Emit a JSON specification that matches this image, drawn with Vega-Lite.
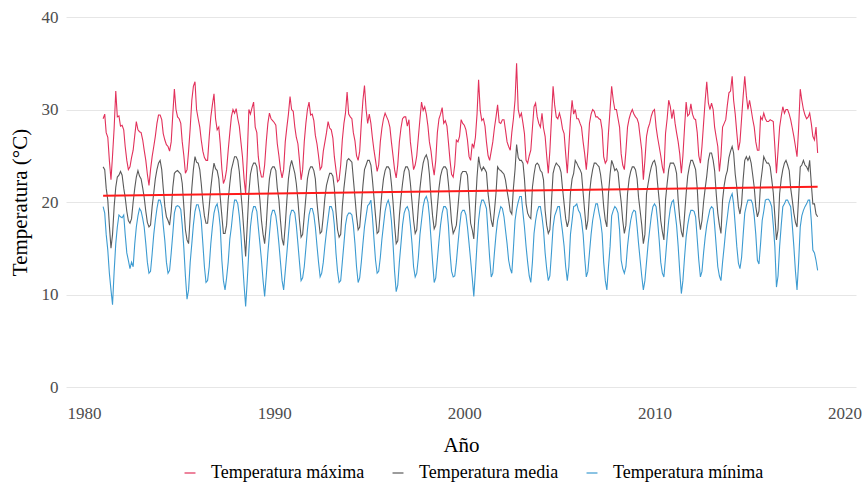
{
"$schema":"https://vega.github.io/schema/vega-lite/v6.json",
"width":790,"height":370,
"autosize":{"type":"none"},
"padding":{"left":66,"top":17,"right":6,"bottom":99},
"config":{"font":"Liberation Serif","view":{"stroke":null},"background":"white",
 "style":{"guide-label":{"font":"Liberation Serif"},"guide-title":{"font":"Liberation Serif"}},
 "axis":{"labelFont":"Liberation Serif","titleFont":"Liberation Serif"},
 "legend":{"labelFont":"Liberation Serif","titleFont":"Liberation Serif"}},
"datasets":{
"trend":[{"t":"1981-01","v":20.68},{"t":"2018-08","v":21.65}],
"temp":[
{"t":"1981-01","a":29,"b":23.8,"c":19.5},{"t":"1981-02","a":29.5,"b":23.5,"c":18.8},{"t":"1981-03","a":27.5,"b":21.5,"c":16.5},{"t":"1981-04","a":27,"b":20.2,"c":14.8},{"t":"1981-05","a":24.5,"b":17.5,"c":12.3},{"t":"1981-06","a":22.4,"b":15,"c":10.5},{"t":"1981-07","a":25,"b":16.5,"c":8.9},{"t":"1981-08","a":28,"b":19.5,"c":12.5},{"t":"1981-09","a":32,"b":21.6,"c":15.5},{"t":"1981-10","a":29.2,"b":22.7,"c":17.3},{"t":"1981-11","a":29.3,"b":22.9,"c":18.6},{"t":"1981-12","a":28.2,"b":23.3,"c":18.4},
{"t":"1982-01","a":28.3,"b":22.9,"c":18.3},{"t":"1982-02","a":27.8,"b":21.5,"c":18.6},{"t":"1982-03","a":26,"b":20.5,"c":16.5},{"t":"1982-04","a":24.5,"b":19,"c":14.5},{"t":"1982-05","a":23.5,"b":18,"c":13.7},{"t":"1982-06","a":23.8,"b":17.7,"c":12.8},{"t":"1982-07","a":24.8,"b":18.2,"c":13.5},{"t":"1982-08","a":25.6,"b":20,"c":13},{"t":"1982-09","a":27.2,"b":21.5,"c":15.5},{"t":"1982-10","a":28.7,"b":22.7,"c":17.3},{"t":"1982-11","a":27.8,"b":23.4,"c":18.5},{"t":"1982-12","a":27.6,"b":22.8,"c":19.3},
{"t":"1983-01","a":27.5,"b":22.5,"c":19},{"t":"1983-02","a":26.7,"b":21.5,"c":18.2},{"t":"1983-03","a":25.6,"b":20.5,"c":17.3},{"t":"1983-04","a":24.5,"b":19,"c":15.5},{"t":"1983-05","a":23,"b":17.8,"c":13.5},{"t":"1983-06","a":21.8,"b":17.3,"c":12.3},{"t":"1983-07","a":23.5,"b":17.5,"c":12.5},{"t":"1983-08","a":24.9,"b":19.5,"c":14.4},{"t":"1983-09","a":26,"b":21,"c":16.5},{"t":"1983-10","a":27.1,"b":22.5,"c":18},{"t":"1983-11","a":28.5,"b":23.5,"c":19.3},{"t":"1983-12","a":29.4,"b":24.2,"c":20.2},
{"t":"1984-01","a":29.4,"b":24.5,"c":20.2},{"t":"1984-02","a":28.9,"b":23.5,"c":19.5},{"t":"1984-03","a":27.4,"b":21.5,"c":17.5},{"t":"1984-04","a":26.7,"b":19.5,"c":15.8},{"t":"1984-05","a":26.2,"b":18.4,"c":13.5},{"t":"1984-06","a":26,"b":18,"c":12.3},{"t":"1984-07","a":25.5,"b":17.5,"c":12.6},{"t":"1984-08","a":26.5,"b":19,"c":14.5},{"t":"1984-09","a":29.5,"b":21.6,"c":16.6},{"t":"1984-10","a":32.2,"b":23.1,"c":18.8},{"t":"1984-11","a":30,"b":23.3,"c":19.5},{"t":"1984-12","a":29.2,"b":23.4,"c":19.6},
{"t":"1985-01","a":29,"b":23.2,"c":19.5},{"t":"1985-02","a":28.5,"b":23,"c":19.2},{"t":"1985-03","a":26.5,"b":22,"c":17.5},{"t":"1985-04","a":25,"b":19.5,"c":15},{"t":"1985-05","a":23.1,"b":17,"c":12},{"t":"1985-06","a":23.5,"b":15.9,"c":9.5},{"t":"1985-07","a":25.5,"b":15.5,"c":10.5},{"t":"1985-08","a":28,"b":18.5,"c":13.5},{"t":"1985-09","a":31,"b":21.5,"c":15.5},{"t":"1985-10","a":32.5,"b":23.5,"c":17.5},{"t":"1985-11","a":33,"b":24.9,"c":19},{"t":"1985-12","a":30,"b":24.3,"c":19.7},
{"t":"1986-01","a":29,"b":24.2,"c":19.7},{"t":"1986-02","a":28.1,"b":23.5,"c":19},{"t":"1986-03","a":26.7,"b":22,"c":18},{"t":"1986-04","a":25.5,"b":20,"c":15.5},{"t":"1986-05","a":24.8,"b":18.5,"c":13},{"t":"1986-06","a":24.5,"b":17.7,"c":11.3},{"t":"1986-07","a":24.5,"b":17.7,"c":11.5},{"t":"1986-08","a":27,"b":19.5,"c":13},{"t":"1986-09","a":29.2,"b":21.5,"c":15.5},{"t":"1986-10","a":30.5,"b":23,"c":17.3},{"t":"1986-11","a":31.7,"b":24.2,"c":18.8},{"t":"1986-12","a":29,"b":23.6,"c":19.5},
{"t":"1987-01","a":27.8,"b":23.4,"c":19.8},{"t":"1987-02","a":28.1,"b":22.5,"c":18.8},{"t":"1987-03","a":26.3,"b":20.5,"c":17.3},{"t":"1987-04","a":23.6,"b":18.5,"c":13.7},{"t":"1987-05","a":22,"b":16.6,"c":11.5},{"t":"1987-06","a":22.5,"b":16.6,"c":10.5},{"t":"1987-07","a":23.5,"b":17.5,"c":11.8},{"t":"1987-08","a":25.6,"b":20.2,"c":13.5},{"t":"1987-09","a":27.5,"b":22,"c":16},{"t":"1987-10","a":29.2,"b":23.5,"c":17.3},{"t":"1987-11","a":30,"b":24.2,"c":19},{"t":"1987-12","a":29.6,"b":24.9,"c":20.2},
{"t":"1988-01","a":30.1,"b":24.9,"c":20.2},{"t":"1988-02","a":29,"b":24.5,"c":19.8},{"t":"1988-03","a":28.2,"b":23.3,"c":18.5},{"t":"1988-04","a":26.5,"b":21,"c":16.5},{"t":"1988-05","a":24.9,"b":19,"c":13.7},{"t":"1988-06","a":22.5,"b":16.5,"c":11},{"t":"1988-07","a":20.9,"b":14.1,"c":8.7},{"t":"1988-08","a":25,"b":17.5,"c":11.5},{"t":"1988-09","a":30,"b":21,"c":14.8},{"t":"1988-10","a":29.5,"b":23,"c":17.3},{"t":"1988-11","a":30.2,"b":23.8,"c":18.8},{"t":"1988-12","a":30.8,"b":24.2,"c":19.5},
{"t":"1989-01","a":28.1,"b":24.2,"c":19.5},{"t":"1989-02","a":27.5,"b":23.8,"c":19},{"t":"1989-03","a":24.9,"b":22,"c":17.3},{"t":"1989-04","a":23.5,"b":20.2,"c":15.5},{"t":"1989-05","a":22.7,"b":18,"c":13.7},{"t":"1989-06","a":22.7,"b":16.5,"c":11.5},{"t":"1989-07","a":24,"b":15.5,"c":9.8},{"t":"1989-08","a":26.5,"b":17.5,"c":12},{"t":"1989-09","a":28.5,"b":20.5,"c":14.5},{"t":"1989-10","a":29.6,"b":22.5,"c":16.5},{"t":"1989-11","a":29,"b":23.5,"c":18.5},{"t":"1989-12","a":28.8,"b":23.8,"c":19.1},
{"t":"1990-01","a":28.6,"b":23.8,"c":19.1},{"t":"1990-02","a":28.3,"b":23.4,"c":18.5},{"t":"1990-03","a":26.3,"b":21.5,"c":17.3},{"t":"1990-04","a":25,"b":20.2,"c":15.5},{"t":"1990-05","a":23.5,"b":18,"c":13.5},{"t":"1990-06","a":22.6,"b":16,"c":11.5},{"t":"1990-07","a":23.5,"b":15.3,"c":10.5},{"t":"1990-08","a":26.5,"b":17.5,"c":12.5},{"t":"1990-09","a":28.1,"b":20.2,"c":14.5},{"t":"1990-10","a":29.5,"b":22.5,"c":16.5},{"t":"1990-11","a":31.4,"b":23.8,"c":18.5},{"t":"1990-12","a":30,"b":24.5,"c":19.1},
{"t":"1991-01","a":29.8,"b":23.8,"c":19.1},{"t":"1991-02","a":28.1,"b":23.1,"c":18.8},{"t":"1991-03","a":27,"b":22,"c":17.5},{"t":"1991-04","a":26.3,"b":20.2,"c":15.5},{"t":"1991-05","a":24.5,"b":18,"c":13.5},{"t":"1991-06","a":22.4,"b":16.2,"c":11.5},{"t":"1991-07","a":23.5,"b":16.5,"c":11.8},{"t":"1991-08","a":26.5,"b":18.5,"c":13},{"t":"1991-09","a":28.5,"b":20.5,"c":15},{"t":"1991-10","a":30,"b":22.5,"c":17},{"t":"1991-11","a":30.8,"b":23.4,"c":18.6},{"t":"1991-12","a":29.4,"b":23.8,"c":19.3},
{"t":"1992-01","a":29.5,"b":23.8,"c":19.3},{"t":"1992-02","a":28.8,"b":23.4,"c":18.6},{"t":"1992-03","a":27.2,"b":22.5,"c":17.3},{"t":"1992-04","a":26.3,"b":20,"c":15.3},{"t":"1992-05","a":25,"b":18.2,"c":13.5},{"t":"1992-06","a":23.5,"b":16.6,"c":11.9},{"t":"1992-07","a":23.8,"b":16.8,"c":12.3},{"t":"1992-08","a":25.5,"b":18.5,"c":13.5},{"t":"1992-09","a":26.5,"b":20.5,"c":15.3},{"t":"1992-10","a":27.5,"b":21.8,"c":16.8},{"t":"1992-11","a":28.7,"b":22.5,"c":18.2},{"t":"1992-12","a":28,"b":23.1,"c":19.5},
{"t":"1993-01","a":27.8,"b":23.1,"c":19.5},{"t":"1993-02","a":26.9,"b":22.8,"c":19},{"t":"1993-03","a":24.9,"b":21.5,"c":17.5},{"t":"1993-04","a":23.5,"b":19,"c":14.5},{"t":"1993-05","a":22.2,"b":17,"c":12.5},{"t":"1993-06","a":22.4,"b":16.2,"c":11.3},{"t":"1993-07","a":24,"b":16.5,"c":11.5},{"t":"1993-08","a":26.7,"b":19.5,"c":13.5},{"t":"1993-09","a":28.5,"b":21.5,"c":15.5},{"t":"1993-10","a":29.6,"b":23,"c":17.5},{"t":"1993-11","a":31.9,"b":24.5,"c":18.5},{"t":"1993-12","a":29.5,"b":24.7,"c":18.8},
{"t":"1994-01","a":29.2,"b":24.5,"c":18.8},{"t":"1994-02","a":29,"b":24.3,"c":18.6},{"t":"1994-03","a":27.5,"b":22.5,"c":17.5},{"t":"1994-04","a":26.6,"b":20.5,"c":15.5},{"t":"1994-05","a":25,"b":18.5,"c":13},{"t":"1994-06","a":24.5,"b":17,"c":11.3},{"t":"1994-07","a":25.5,"b":17.3,"c":11.8},{"t":"1994-08","a":28.5,"b":19.5,"c":13.5},{"t":"1994-09","a":31,"b":21.8,"c":15.5},{"t":"1994-10","a":32.6,"b":23.5,"c":17.3},{"t":"1994-11","a":30,"b":24,"c":18.5},{"t":"1994-12","a":28.5,"b":24.5,"c":19.6},
{"t":"1995-01","a":29.5,"b":24.5,"c":19.8},{"t":"1995-02","a":28.5,"b":24,"c":20.2},{"t":"1995-03","a":27,"b":22.5,"c":18.5},{"t":"1995-04","a":25.6,"b":20.5,"c":16},{"t":"1995-05","a":24.5,"b":18.5,"c":13.7},{"t":"1995-06","a":23.3,"b":16.6,"c":12.3},{"t":"1995-07","a":24,"b":16.8,"c":12.5},{"t":"1995-08","a":26.5,"b":19,"c":14},{"t":"1995-09","a":28,"b":21,"c":16},{"t":"1995-10","a":29,"b":22.5,"c":17.5},{"t":"1995-11","a":29.6,"b":23.4,"c":19},{"t":"1995-12","a":29.2,"b":23.8,"c":19.8},
{"t":"1996-01","a":28.8,"b":23.8,"c":20.2},{"t":"1996-02","a":28.1,"b":23.5,"c":19.5},{"t":"1996-03","a":26.5,"b":22,"c":18},{"t":"1996-04","a":25,"b":20,"c":15.5},{"t":"1996-05","a":23.5,"b":17.5,"c":12.5},{"t":"1996-06","a":22.6,"b":15.5,"c":10.3},{"t":"1996-07","a":24,"b":15.8,"c":11},{"t":"1996-08","a":26.5,"b":18.5,"c":13.5},{"t":"1996-09","a":28,"b":20.5,"c":15.5},{"t":"1996-10","a":29,"b":22,"c":17.5},{"t":"1996-11","a":29.2,"b":23.3,"c":18.8},{"t":"1996-12","a":29.2,"b":23.8,"c":19.3},
{"t":"1997-01","a":28.2,"b":23.8,"c":19.5},{"t":"1997-02","a":28.9,"b":23.4,"c":19},{"t":"1997-03","a":26.5,"b":22,"c":17.5},{"t":"1997-04","a":25,"b":20,"c":15.5},{"t":"1997-05","a":23.5,"b":18,"c":13},{"t":"1997-06","a":24,"b":16.6,"c":11.9},{"t":"1997-07","a":25,"b":17,"c":12.3},{"t":"1997-08","a":27,"b":19.5,"c":14},{"t":"1997-09","a":29,"b":21.5,"c":16.5},{"t":"1997-10","a":30.8,"b":23,"c":18},{"t":"1997-11","a":29.9,"b":24.2,"c":19.5},{"t":"1997-12","a":30.3,"b":24.8,"c":20.3},
{"t":"1998-01","a":29.5,"b":25.1,"c":20.6},{"t":"1998-02","a":28.2,"b":24.5,"c":20},{"t":"1998-03","a":26.5,"b":23,"c":18.5},{"t":"1998-04","a":25.5,"b":20.5,"c":16},{"t":"1998-05","a":24,"b":18.5,"c":13.5},{"t":"1998-06","a":22.9,"b":17.1,"c":11.3},{"t":"1998-07","a":24.5,"b":17.5,"c":11.8},{"t":"1998-08","a":27.5,"b":19.5,"c":13.8},{"t":"1998-09","a":29,"b":21.5,"c":15.8},{"t":"1998-10","a":29.5,"b":22.8,"c":17.5},{"t":"1998-11","a":30.2,"b":23.5,"c":18.8},{"t":"1998-12","a":28.5,"b":23.8,"c":19.5},
{"t":"1999-01","a":28.8,"b":23.8,"c":19.5},{"t":"1999-02","a":28.2,"b":23.5,"c":19.2},{"t":"1999-03","a":26.5,"b":22,"c":17.5},{"t":"1999-04","a":24.5,"b":20,"c":14.5},{"t":"1999-05","a":23,"b":17.8,"c":12.5},{"t":"1999-06","a":22.7,"b":16.6,"c":11.9},{"t":"1999-07","a":24,"b":17,"c":12},{"t":"1999-08","a":26.7,"b":17.5,"c":13.5},{"t":"1999-09","a":26.5,"b":19.5,"c":15.5},{"t":"1999-10","a":27.1,"b":21.5,"c":17.3},{"t":"1999-11","a":28.9,"b":23,"c":18.8},{"t":"1999-12","a":28.5,"b":23.3,"c":19.1},
{"t":"2000-01","a":28.3,"b":23.3,"c":19.1},{"t":"2000-02","a":27.8,"b":23.3,"c":18.6},{"t":"2000-03","a":26.7,"b":22.9,"c":17.3},{"t":"2000-04","a":24.9,"b":20.2,"c":15.5},{"t":"2000-05","a":24.5,"b":17.7,"c":13.7},{"t":"2000-06","a":26.3,"b":17,"c":11.8},{"t":"2000-07","a":25.9,"b":16,"c":9.8},{"t":"2000-08","a":27,"b":19.5,"c":12.5},{"t":"2000-09","a":29.5,"b":22.7,"c":15.5},{"t":"2000-10","a":33.2,"b":24.9,"c":18},{"t":"2000-11","a":29.9,"b":23.8,"c":19.5},{"t":"2000-12","a":28.8,"b":23.4,"c":20.2},
{"t":"2001-01","a":29,"b":23.8,"c":20.2},{"t":"2001-02","a":28.2,"b":23.5,"c":19.8},{"t":"2001-03","a":26.5,"b":23.2,"c":19.3},{"t":"2001-04","a":25,"b":20.9,"c":16.6},{"t":"2001-05","a":24.5,"b":19.5,"c":14},{"t":"2001-06","a":25.5,"b":18,"c":11.9},{"t":"2001-07","a":26.5,"b":17.3,"c":12.3},{"t":"2001-08","a":28,"b":19,"c":14.5},{"t":"2001-09","a":29.2,"b":21,"c":16.5},{"t":"2001-10","a":30.5,"b":23.8,"c":18},{"t":"2001-11","a":28.6,"b":23.5,"c":18.8},{"t":"2001-12","a":28.5,"b":23.4,"c":19.5},
{"t":"2002-01","a":28.9,"b":23.2,"c":19.3},{"t":"2002-02","a":28.9,"b":23,"c":18.4},{"t":"2002-03","a":27.8,"b":22.4,"c":17},{"t":"2002-04","a":26.5,"b":21.2,"c":15.5},{"t":"2002-05","a":26,"b":20.2,"c":13.7},{"t":"2002-06","a":25.6,"b":19,"c":12.8},{"t":"2002-07","a":27.5,"b":18.7,"c":12.3},{"t":"2002-08","a":29,"b":21.5,"c":15},{"t":"2002-09","a":31,"b":23.5,"c":18},{"t":"2002-10","a":35,"b":26.2,"c":19.2},{"t":"2002-11","a":30,"b":24.8,"c":20},{"t":"2002-12","a":29.2,"b":24.5,"c":20.6},
{"t":"2003-01","a":29.6,"b":24.5,"c":20.6},{"t":"2003-02","a":28.5,"b":24.2,"c":18.8},{"t":"2003-03","a":27.4,"b":22.5,"c":17.3},{"t":"2003-04","a":24.5,"b":19.8,"c":15.2},{"t":"2003-05","a":24.2,"b":18.8,"c":13.5},{"t":"2003-06","a":25,"b":18.4,"c":12},{"t":"2003-07","a":25.6,"b":18.2,"c":11.3},{"t":"2003-08","a":28,"b":21.6,"c":13.5},{"t":"2003-09","a":30.3,"b":23,"c":16.6},{"t":"2003-10","a":30.7,"b":24,"c":18},{"t":"2003-11","a":29.2,"b":24.2,"c":19},{"t":"2003-12","a":28.5,"b":24,"c":19.5},
{"t":"2004-01","a":28.1,"b":23.4,"c":19.5},{"t":"2004-02","a":29.6,"b":23.2,"c":18.4},{"t":"2004-03","a":28,"b":22.4,"c":17},{"t":"2004-04","a":27.1,"b":19.1,"c":14.5},{"t":"2004-05","a":25,"b":17.5,"c":12.8},{"t":"2004-06","a":23.1,"b":16.6,"c":11.5},{"t":"2004-07","a":25.5,"b":17,"c":12},{"t":"2004-08","a":29,"b":20,"c":14.5},{"t":"2004-09","a":32.5,"b":23.1,"c":17.3},{"t":"2004-10","a":30.5,"b":23.8,"c":18.5},{"t":"2004-11","a":29.2,"b":24.2,"c":19},{"t":"2004-12","a":29,"b":24,"c":19.5},
{"t":"2005-01","a":29.6,"b":23.8,"c":19.5},{"t":"2005-02","a":28.9,"b":23.2,"c":18},{"t":"2005-03","a":27.9,"b":21.5,"c":16.8},{"t":"2005-04","a":27.4,"b":19.8,"c":15.2},{"t":"2005-05","a":25.2,"b":18.2,"c":13},{"t":"2005-06","a":23.1,"b":17.3,"c":11.5},{"t":"2005-07","a":26,"b":18,"c":13},{"t":"2005-08","a":29,"b":21,"c":16.5},{"t":"2005-09","a":31,"b":22.5,"c":18},{"t":"2005-10","a":29.5,"b":23.1,"c":19.5},{"t":"2005-11","a":30,"b":24.5,"c":19.6},{"t":"2005-12","a":29,"b":24.2,"c":19.8},
{"t":"2006-01","a":29,"b":23.8,"c":19.1},{"t":"2006-02","a":28.5,"b":23.5,"c":18.8},{"t":"2006-03","a":28.1,"b":23.1,"c":18},{"t":"2006-04","a":26.5,"b":21,"c":16.5},{"t":"2006-05","a":25.2,"b":19,"c":14},{"t":"2006-06","a":23.5,"b":17,"c":11.9},{"t":"2006-07","a":25.5,"b":18,"c":12.5},{"t":"2006-08","a":28.5,"b":20.9,"c":14.5},{"t":"2006-09","a":29.5,"b":22.5,"c":16.5},{"t":"2006-10","a":30,"b":23.5,"c":18},{"t":"2006-11","a":29.8,"b":24.2,"c":19},{"t":"2006-12","a":29.2,"b":24.2,"c":19.8},
{"t":"2007-01","a":29.2,"b":24,"c":19.8},{"t":"2007-02","a":29,"b":23.8,"c":18.8},{"t":"2007-03","a":28.9,"b":23,"c":18},{"t":"2007-04","a":27.8,"b":21.6,"c":16.6},{"t":"2007-05","a":24.9,"b":19.5,"c":13.5},{"t":"2007-06","a":24.2,"b":18,"c":11.5},{"t":"2007-07","a":24.5,"b":17.3,"c":10.5},{"t":"2007-08","a":27.5,"b":20.9,"c":13},{"t":"2007-09","a":30,"b":23,"c":15.2},{"t":"2007-10","a":32.5,"b":24.5,"c":18.5},{"t":"2007-11","a":31,"b":24,"c":19.1},{"t":"2007-12","a":30,"b":23.4,"c":19.5},
{"t":"2008-01","a":30,"b":23.6,"c":19.3},{"t":"2008-02","a":29,"b":23.2,"c":18.8},{"t":"2008-03","a":28.1,"b":21.5,"c":17},{"t":"2008-04","a":25.2,"b":20,"c":13.7},{"t":"2008-05","a":24,"b":18,"c":12.8},{"t":"2008-06","a":23.5,"b":16.6,"c":12.3},{"t":"2008-07","a":25.5,"b":17.5,"c":13},{"t":"2008-08","a":28.1,"b":20.9,"c":15.2},{"t":"2008-09","a":29,"b":22.5,"c":16.8},{"t":"2008-10","a":29.6,"b":23.3,"c":18},{"t":"2008-11","a":30,"b":23.8,"c":18.8},{"t":"2008-12","a":29.5,"b":23.8,"c":19.1},
{"t":"2009-01","a":29.2,"b":23.5,"c":19},{"t":"2009-02","a":29,"b":22.5,"c":17.3},{"t":"2009-03","a":28.5,"b":20.5,"c":15.5},{"t":"2009-04","a":27,"b":19,"c":13.7},{"t":"2009-05","a":25.6,"b":17.5,"c":12},{"t":"2009-06","a":22.4,"b":15.5,"c":10.5},{"t":"2009-07","a":24.5,"b":16.5,"c":11.5},{"t":"2009-08","a":27.1,"b":20.9,"c":13.5},{"t":"2009-09","a":28,"b":22,"c":15.5},{"t":"2009-10","a":28.5,"b":23,"c":17},{"t":"2009-11","a":29.3,"b":23.8,"c":18.5},{"t":"2009-12","a":29.8,"b":24.3,"c":19.5},
{"t":"2010-01","a":30,"b":24.5,"c":19.8},{"t":"2010-02","a":28.1,"b":23.8,"c":19.5},{"t":"2010-03","a":27,"b":22,"c":18},{"t":"2010-04","a":26,"b":20.2,"c":15.9},{"t":"2010-05","a":25,"b":18,"c":13.5},{"t":"2010-06","a":23.8,"b":16.8,"c":12.3},{"t":"2010-07","a":23.1,"b":15.9,"c":11.9},{"t":"2010-08","a":27.4,"b":20.2,"c":14},{"t":"2010-09","a":29,"b":22,"c":16.2},{"t":"2010-10","a":31,"b":23.5,"c":18},{"t":"2010-11","a":30.3,"b":24.2,"c":19.3},{"t":"2010-12","a":29,"b":24.2,"c":20},
{"t":"2011-01","a":30,"b":24.2,"c":20.2},{"t":"2011-02","a":28.5,"b":23.8,"c":18.8},{"t":"2011-03","a":27.5,"b":23.1,"c":17.5},{"t":"2011-04","a":26.5,"b":20.2,"c":15.2},{"t":"2011-05","a":25.2,"b":18.2,"c":12.5},{"t":"2011-06","a":23.1,"b":16.8,"c":10.1},{"t":"2011-07","a":25,"b":16.2,"c":11.5},{"t":"2011-08","a":28,"b":18.5,"c":14},{"t":"2011-09","a":30.8,"b":20.9,"c":16.2},{"t":"2011-10","a":29.3,"b":22.8,"c":17.5},{"t":"2011-11","a":29.5,"b":23.8,"c":18.5},{"t":"2011-12","a":30.6,"b":24.5,"c":19.1},
{"t":"2012-01","a":29.5,"b":24.5,"c":19.1},{"t":"2012-02","a":29,"b":24,"c":19},{"t":"2012-03","a":28.9,"b":23.5,"c":18.4},{"t":"2012-04","a":27.5,"b":21.5,"c":16},{"t":"2012-05","a":25,"b":18.4,"c":13.7},{"t":"2012-06","a":24.2,"b":17,"c":11.9},{"t":"2012-07","a":26,"b":18,"c":12.5},{"t":"2012-08","a":28.5,"b":20,"c":14.5},{"t":"2012-09","a":31,"b":21.5,"c":16.2},{"t":"2012-10","a":33,"b":22.8,"c":17.5},{"t":"2012-11","a":30.7,"b":24.5,"c":18.4},{"t":"2012-12","a":30,"b":25.3,"c":19.2},
{"t":"2013-01","a":30.7,"b":25.3,"c":19.5},{"t":"2013-02","a":30,"b":24.5,"c":19.3},{"t":"2013-03","a":28.1,"b":23.4,"c":17.5},{"t":"2013-04","a":27,"b":20.9,"c":15.2},{"t":"2013-05","a":26,"b":18.8,"c":13},{"t":"2013-06","a":23.3,"b":17.5,"c":12},{"t":"2013-07","a":25,"b":16.6,"c":11.5},{"t":"2013-08","a":28.1,"b":20.2,"c":13.5},{"t":"2013-09","a":28.5,"b":21.8,"c":15.2},{"t":"2013-10","a":28.9,"b":22.8,"c":17},{"t":"2013-11","a":30.5,"b":23.4,"c":18.4},{"t":"2013-12","a":31.8,"b":24.8,"c":19.8},
{"t":"2014-01","a":32,"b":25.5,"c":20.5},{"t":"2014-02","a":33.6,"b":26,"c":20.9},{"t":"2014-03","a":31,"b":25.3,"c":19.8},{"t":"2014-04","a":29.5,"b":23,"c":17.5},{"t":"2014-05","a":27.5,"b":21.6,"c":15.2},{"t":"2014-06","a":25.6,"b":19.5,"c":13.4},{"t":"2014-07","a":26.5,"b":18.7,"c":12.8},{"t":"2014-08","a":29,"b":19.8,"c":14},{"t":"2014-09","a":31.5,"b":22.5,"c":16.5},{"t":"2014-10","a":33.6,"b":24.5,"c":18.8},{"t":"2014-11","a":31.5,"b":24.9,"c":19.6},{"t":"2014-12","a":30,"b":24.5,"c":20.2},
{"t":"2015-01","a":31,"b":24.9,"c":20.2},{"t":"2015-02","a":30,"b":24.2,"c":20.2},{"t":"2015-03","a":29,"b":23,"c":19.8},{"t":"2015-04","a":28.1,"b":21.6,"c":18.5},{"t":"2015-05","a":26.5,"b":19.5,"c":16.5},{"t":"2015-06","a":25.6,"b":18.4,"c":13.7},{"t":"2015-07","a":25.6,"b":19,"c":13.3},{"t":"2015-08","a":29.2,"b":22,"c":15.5},{"t":"2015-09","a":28.9,"b":23.4,"c":18},{"t":"2015-10","a":29.6,"b":24.9,"c":19},{"t":"2015-11","a":29,"b":24.5,"c":20.2},{"t":"2015-12","a":28.7,"b":24.2,"c":20.3},
{"t":"2016-01","a":28.7,"b":24.2,"c":20.3},{"t":"2016-02","a":28.9,"b":23.8,"c":20},{"t":"2016-03","a":28.8,"b":22.5,"c":19.5},{"t":"2016-04","a":28.7,"b":21,"c":17.5},{"t":"2016-05","a":26,"b":18.5,"c":15.2},{"t":"2016-06","a":23.1,"b":15.9,"c":10.8},{"t":"2016-07","a":25.5,"b":17,"c":12},{"t":"2016-08","a":28.1,"b":20.9,"c":15.2},{"t":"2016-09","a":29.3,"b":22.5,"c":17.5},{"t":"2016-10","a":30.3,"b":23.5,"c":19.5},{"t":"2016-11","a":29.6,"b":24.2,"c":19.8},{"t":"2016-12","a":30,"b":24.5,"c":20.2},
{"t":"2017-01","a":30,"b":24,"c":20.2},{"t":"2017-02","a":29.5,"b":23.4,"c":19.8},{"t":"2017-03","a":28.9,"b":21.5,"c":19.5},{"t":"2017-04","a":28,"b":20.2,"c":17.5},{"t":"2017-05","a":27.1,"b":18.8,"c":15.2},{"t":"2017-06","a":26,"b":17.8,"c":12.5},{"t":"2017-07","a":24.9,"b":17.3,"c":10.5},{"t":"2017-08","a":28,"b":20.5,"c":13.5},{"t":"2017-09","a":32.2,"b":23.8,"c":17.3},{"t":"2017-10","a":31,"b":24,"c":18.5},{"t":"2017-11","a":30,"b":24.5,"c":19.1},{"t":"2017-12","a":29.4,"b":24,"c":19.5},
{"t":"2018-01","a":29,"b":23.8,"c":19.8},{"t":"2018-02","a":29.2,"b":23.4,"c":20.2},{"t":"2018-03","a":29.6,"b":24.5,"c":20.2},{"t":"2018-04","a":28.5,"b":22,"c":18},{"t":"2018-05","a":27.1,"b":19.8,"c":14.8},{"t":"2018-06","a":26.7,"b":19.8,"c":14.5},{"t":"2018-07","a":28.1,"b":18.7,"c":13.7},{"t":"2018-08","a":25.3,"b":18.4,"c":12.6}
]},
"layer":[
{"data":{"name":"temp"},
 "transform":[{"fold":["a","b","c"],"as":["s","v"]}],
 "mark":{"type":"line","strokeWidth":1.1,"interpolate":"linear"},
 "encoding":{
  "x":{"field":"t","type":"temporal",
   "scale":{"type":"utc","domain":[{"year":1979,"month":1,"date":19,"utc":true},{"year":2020,"month":8,"date":7,"utc":true}]},
   "axis":{"title":"Año","format":"%Y","tickCount":{"interval":"year","step":10},"grid":false,"ticks":false,"domain":false,
    "labelFont":"Liberation Serif","labelFontSize":17,"labelColor":"#4d4d4d","labelPadding":18,
    "titleFont":"Liberation Serif","titleFontSize":21,"titleFontWeight":"normal","titleColor":"#000000","titlePadding":13}},
  "y":{"field":"v","type":"quantitative","scale":{"domain":[0,40],"nice":false,"zero":false},
   "axis":{"title":"Temperatura (°C)","values":[0,10,20,30,40],"grid":true,"gridColor":"#e6e6e6","gridWidth":1,"ticks":false,"domain":false,
    "labelFont":"Liberation Serif","labelFontSize":17,"labelColor":"#4d4d4d","labelPadding":8,
    "titleFont":"Liberation Serif","titleFontSize":21,"titleFontWeight":"normal","titleColor":"#000000","titlePadding":11}},
  "color":{"field":"s","type":"nominal",
   "scale":{"domain":["a","b","c"],"range":["#e2315b","#5a5a5a","#3d9bd1"]},
   "legend":{"orient":"none","legendX":115,"legendY":447,"direction":"horizontal","title":null,"symbolType":"stroke","symbolStrokeWidth":1.2,"symbolSize":120,"padding":0,"labelLimit":400,
    "labelExpr":"datum.value == 'a' ? 'Temperatura máxima' : datum.value == 'b' ? 'Temperatura media' : 'Temperatura mínima'",
    "labelFont":"Liberation Serif","labelFontSize":18,"labelColor":"#000000","labelOffset":12,"columnPadding":24}}
 }},
{"data":{"name":"trend"},
 "mark":{"type":"line","color":"#ff1a1a","strokeWidth":2},
 "encoding":{"x":{"field":"t","type":"temporal"},"y":{"field":"v","type":"quantitative"}}}
]
}
